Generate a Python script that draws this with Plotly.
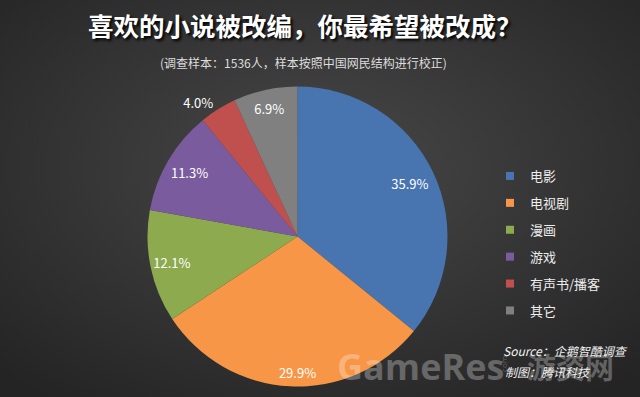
import base64
import plotly.graph_objects as go

categories = ["电影", "电视剧", "漫画", "游戏", "有声书/播客", "其它"]
values = [35.9, 29.9, 12.1, 11.3, 4.0, 6.9]
colors = ["#4874B0", "#F79646", "#8DAA4F", "#7A5C9E", "#C0504D", "#808080"]

title_text = "喜欢的小说被改编，你最希望被改成？"
subtitle_text = "(调查样本：1536人，样本按照中国网民结构进行校正)"
source_lines = ["Source：企鹅智酷调查", "制图：腾讯科技"]

# style: radial placement of each value label (fraction of pie radius), None = outside
LABEL_RADIUS = [0.83, 0.91, 0.855, 0.835, None, 0.876]

W, H = 640, 397
FONT = "Noto Sans CJK SC"
CX, CY, R = 297.5, 236.5, 150
DOMAIN = dict(x=[(CX - R) / W, (CX + R) / W], y=[(H - CY - R) / H, (H - CY + R) / H])

svg = (
    f'<svg xmlns="http://www.w3.org/2000/svg" width="{W}" height="{H}">'
    '<defs><radialGradient id="g" cx="50%" cy="42%" r="72%">'
    '<stop offset="0" stop-color="#484848"/>'
    '<stop offset="1" stop-color="#242424"/>'
    '</radialGradient></defs>'
    f'<rect width="{W}" height="{H}" fill="url(#g)"/></svg>'
)
bg_src = "data:image/svg+xml;base64," + base64.b64encode(svg.encode()).decode()

fig = go.Figure()

# coloured pie
fig.add_trace(go.Pie(
    labels=categories, values=values, sort=False, direction="clockwise", rotation=0,
    marker=dict(colors=colors, line=dict(width=0)),
    textinfo="none", hoverinfo="label+value", showlegend=False, domain=DOMAIN,
))

# transparent overlay pies carrying the value labels at their radii
for i, rr in enumerate(LABEL_RADIUS):
    txt = [f"{v:.1f}%" if j == i else "" for j, v in enumerate(values)]
    fig.add_trace(go.Pie(
        labels=categories, values=values, sort=False, direction="clockwise", rotation=0,
        marker=dict(colors=["rgba(0,0,0,0)"] * len(values), line=dict(width=0)),
        text=txt, textinfo="text",
        textposition="outside" if rr is None else "inside",
        insidetextorientation="horizontal",
        hole=0 if rr is None else 2 * rr - 1,
        textfont=dict(family=FONT, size=13, color="white"),
        hoverinfo="skip", showlegend=False, domain=DOMAIN,
    ))

for cat, col in zip(categories, colors):
    fig.add_trace(go.Scatter(
        x=[None], y=[None], mode="markers", name=cat, legendgroup=cat,
        marker=dict(symbol="square", size=8, color=col),
    ))

wm = "rgba(255,255,255,0.28)"
annotations = [
    dict(text=title_text, x=305 / W, y=1 - 25 / H, xref="paper", yref="paper",
         showarrow=False, xanchor="center", yanchor="middle",
         font=dict(family=FONT, size=25.5, color="white", weight="bold",
                   shadow="2px 2px 3px #000000")),
    dict(text=subtitle_text, x=303 / W, y=1 - 62 / H, xref="paper", yref="paper",
         showarrow=False, xanchor="center", yanchor="middle",
         font=dict(family=FONT, size=12, color="#dddddd")),
    dict(text="GameRes", x=335 / W, y=1 - 366 / H, xref="paper", yref="paper",
         showarrow=False, xanchor="left", yanchor="middle",
         font=dict(family="Open Sans", size=36, color=wm, weight="bold")),
    dict(text=".com", x=503 / W, y=1 - 365 / H, xref="paper", yref="paper",
         showarrow=False, xanchor="center", yanchor="middle", textangle=-90,
         font=dict(family="Open Sans", size=8, color=wm)),
    dict(text="游资网", x=525 / W, y=1 - 366 / H, xref="paper", yref="paper",
         showarrow=False, xanchor="left", yanchor="middle",
         font=dict(family=FONT, size=29, color=wm, weight="bold")),
    dict(text=f"<i>{source_lines[0]}</i>", x=501 / W, y=1 - 350 / H, xref="paper", yref="paper",
         showarrow=False, xanchor="left", yanchor="middle",
         font=dict(family=FONT, size=12, color="#f2f2f2")),
    dict(text=f"<i>{source_lines[1]}</i>", x=503 / W, y=1 - 371 / H, xref="paper", yref="paper",
         showarrow=False, xanchor="left", yanchor="middle",
         font=dict(family=FONT, size=12, color="#f2f2f2")),
]

fig.update_layout(
    width=W, height=H,
    margin=dict(l=0, r=0, t=0, b=0),
    paper_bgcolor="#333333",
    plot_bgcolor="rgba(0,0,0,0)",
    xaxis=dict(visible=False),
    yaxis=dict(visible=False),
    uniformtext=dict(minsize=13, mode="show"),
    images=[dict(source=bg_src, xref="paper", yref="paper", x=0, y=1,
                 sizex=1, sizey=1, sizing="stretch", xanchor="left",
                 yanchor="top", layer="below")],
    legend=dict(x=490 / W, y=1 - 161 / H, xanchor="left", yanchor="top",
                bgcolor="rgba(0,0,0,0)", tracegroupgap=7,
                font=dict(family=FONT, size=13, color="#eeeeee"),
                itemwidth=30),
    annotations=annotations,
    showlegend=True,
)

fig.write_html("out.html", config={"displayModeBar": False},
               post_script="document.body.style.margin='0';")
